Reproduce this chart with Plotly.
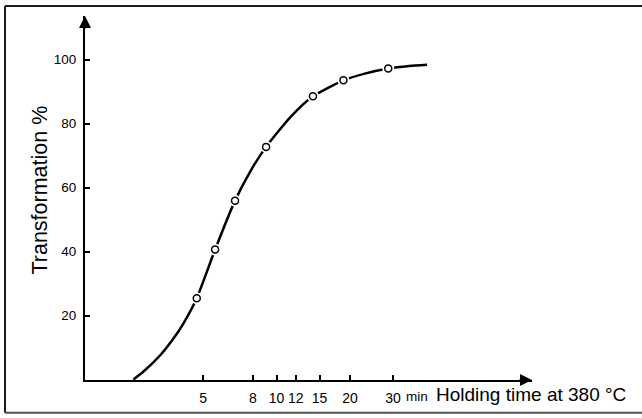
import plotly.graph_objects as go

# ---- data ----
meas_time = [4.71, 5.60, 6.76, 9.06, 14.1, 18.8, 28.7]          # min
meas_pct = [25.4, 40.6, 55.9, 72.7, 88.5, 93.5, 97.2]            # %

curve_time = [2.59, 2.85, 3.33, 3.78, 4.15, 4.71, 5.6, 6.76, 7.8, 9.06, 11.4,
              14.1, 18.8, 23.0, 28.7, 35.0, 41.4]
curve_pct = [0.0, 2.5, 7.5, 12.8, 17.5, 25.4, 40.6, 55.9, 65.0, 72.7, 82.0,
             88.5, 93.5, 95.6, 97.2, 98.0, 98.4]

x_ticks = [5, 8, 10, 12, 15, 20, 30]
x_tick_labels = ["5", "8", "10", "12", "15", "20", "30"]
y_ticks = [20, 40, 60, 80, 100]
y_tick_labels = ["20", "40", "60", "80", "100"]

x_title = "Holding time at 380 °C"
x_unit = "min"
y_title = "Transformation %"

# ---- layout geometry ----
W, H = 642, 418
L, R, T, B = 85, 110, 16, 35
PW, PH = W - L - R, H - T - B


def px(xp):
    return (xp - L) / PW


def py(yp):
    return (H - B - yp) / PH


FONT = "Liberation Sans, Arial, sans-serif"

fig = go.Figure()
fig.add_trace(go.Scatter(x=curve_time, y=curve_pct, mode="lines",
                         line=dict(color="black", width=2.5, shape="spline", smoothing=0.6),
                         hoverinfo="skip", showlegend=False))
# white halo to break the line around markers
fig.add_trace(go.Scatter(x=meas_time, y=meas_pct, mode="markers",
                         marker=dict(size=12, color="white", line=dict(width=0)),
                         hoverinfo="skip", showlegend=False))
fig.add_trace(go.Scatter(x=meas_time, y=meas_pct, mode="markers",
                         marker=dict(size=7, color="white", symbol="circle",
                                     line=dict(color="black", width=1.5)),
                         showlegend=False))

fig.update_layout(
    width=W, height=H,
    margin=dict(l=L, r=R, t=T, b=B, pad=0),
    paper_bgcolor="white", plot_bgcolor="white",
    font=dict(family=FONT, color="black"),
    xaxis=dict(type="log", range=[0.215, 2.047], showgrid=False, zeroline=False,
               showline=True, linecolor="black", linewidth=2,
               ticks="inside", ticklen=5, tickwidth=1.5, tickcolor="black",
               tickvals=x_ticks, ticktext=x_tick_labels,
               tickfont=dict(size=14, family=FONT), ticklabelstandoff=4),
    yaxis=dict(range=[-0.15, 113.6], showgrid=False, zeroline=False,
               showline=True, linecolor="black", linewidth=2,
               ticks="inside", ticklen=5, tickwidth=1.5, tickcolor="black",
               tickvals=y_ticks, ticktext=y_tick_labels,
               tickfont=dict(size=13.5, family=FONT), ticklabelstandoff=4),
    showlegend=False,
)

ann = []
# arrowheads
ann.append(dict(xref="paper", yref="paper", x=1, y=0, ax=-14, ay=0,
                showarrow=True, arrowhead=2, arrowsize=1.2, arrowwidth=2,
                arrowcolor="black", text=""))
ann.append(dict(xref="paper", yref="paper", x=0, y=1, ax=0, ay=14,
                showarrow=True, arrowhead=2, arrowsize=1.2, arrowwidth=2,
                arrowcolor="black", text=""))
# unit + axis titles
ann.append(dict(xref="paper", yref="paper", x=px(404), y=py(400), text=x_unit,
                showarrow=False, xanchor="left", yanchor="middle",
                font=dict(size=13.5, family=FONT)))
ann.append(dict(xref="paper", yref="paper", x=px(434), y=py(398), text=x_title,
                showarrow=False, xanchor="left", yanchor="middle",
                font=dict(size=19, family=FONT)))
ann.append(dict(xref="paper", yref="paper", x=px(40), y=py(192), text=y_title,
                showarrow=False, xanchor="center", yanchor="middle", textangle=-90,
                font=dict(size=21.5, family=FONT)))
fig.update_layout(annotations=ann)

# scan frame
frame = dict(color="#1a1a1a", width=2)
fig.add_shape(type="line", xref="paper", yref="paper", x0=px(5), y0=py(6), x1=px(W), y1=py(6), line=frame)
fig.add_shape(type="line", xref="paper", yref="paper", x0=px(5), y0=py(6), x1=px(5), y1=py(416), line=frame)
fig.add_shape(type="line", xref="paper", yref="paper", x0=px(5), y0=py(416), x1=px(W), y1=py(416),
              line=dict(color="#555555", width=2))

fig.write_html("out.html")
